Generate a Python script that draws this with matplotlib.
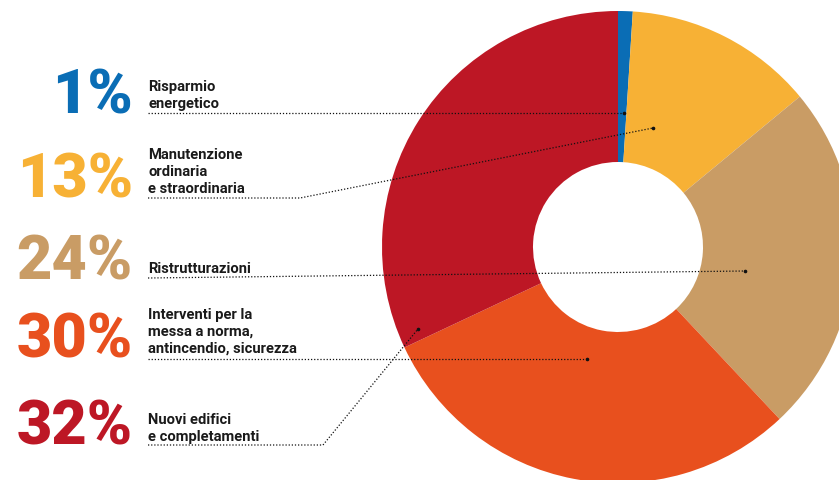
import matplotlib.pyplot as plt

W, H = 839, 481

shares = [1, 13, 24, 30, 32]
pct_labels = ["1%", "13%", "24%", "30%", "32%"]
descriptions = [
    ["Risparmio", "energetico"],
    ["Manutenzione", "ordinaria", "e straordinaria"],
    ["Ristrutturazioni"],
    ["Interventi per la", "messa a norma,", "antincendio, sicurezza"],
    ["Nuovi edifici", "e completamenti"],
]
colors = ["#0a6db5", "#f7b135", "#c99c65", "#e8501e", "#bd1725"]

# layout in pixel units (y measured from the top)
center = (618, 248)
r_out, r_in = 236, 85
pct_base = [114, 198, 280, 358, 445]
first_base = [91, 159, 273, 319, 424]
line_step = 17
leaders = [
    [(148, 114), (624, 114)],
    [(148, 199), (300, 199), (653, 129)],
    [(148, 279), (745, 272)],
    [(148, 360), (587, 360)],
    [(148, 446), (323, 446), (418, 330)],
]

plt.rcParams["font.family"] = ["Roboto", "DejaVu Sans"]

fig = plt.figure(figsize=(W / 100, H / 100), dpi=100)
ax = fig.add_axes([0, 0, 1, 1])


def fy(y):
    return H - y


ax.pie(shares, colors=colors, startangle=90, counterclock=False,
       radius=r_out, center=(center[0], fy(center[1])),
       wedgeprops=dict(width=r_out - r_in, linewidth=0))

for i, pct in enumerate(pct_labels):
    ax.text(133, fy(pct_base[i]), pct, ha="right", va="baseline",
            fontsize=44, fontweight="black", color=colors[i])
    for j, line in enumerate(descriptions[i]):
        ax.text(148, fy(first_base[i] + j * line_step), line,
                ha="left", va="baseline", fontsize=10.6,
                fontweight="semibold", color="#1a1a1a")
    xs = [p[0] for p in leaders[i]]
    ys = [fy(p[1]) for p in leaders[i]]
    ax.plot(xs, ys, color="#111111", lw=0.9, linestyle=(0, (1, 1.5)))
    ax.plot(xs[-1], ys[-1], "o", color="#111111", ms=1.6)

ax.set_xlim(0, W)
ax.set_ylim(0, H)
ax.set_aspect("equal")
ax.axis("off")

fig.savefig("out.png", dpi=100)
